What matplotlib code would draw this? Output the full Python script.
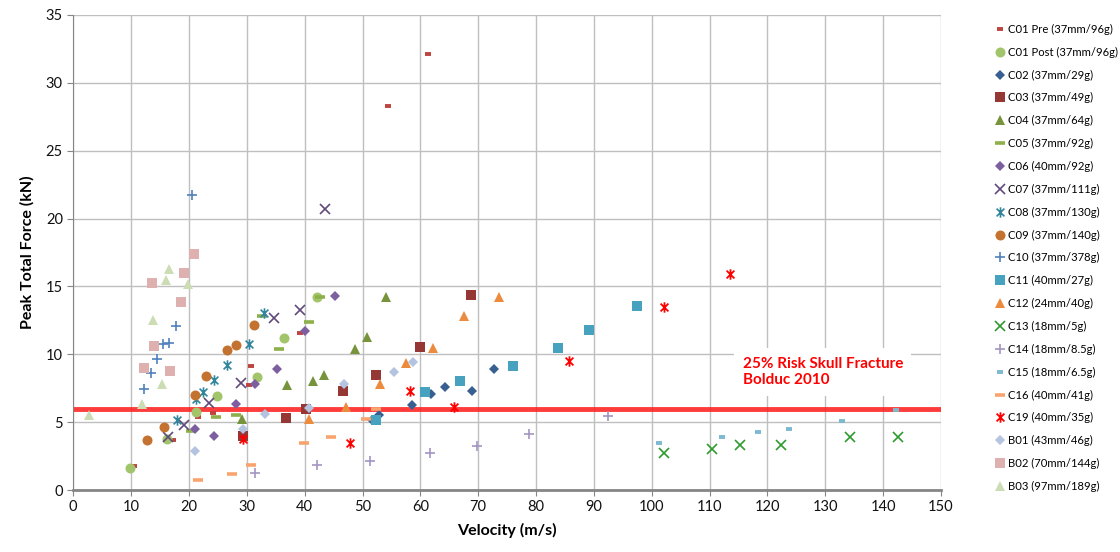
import matplotlib
matplotlib.use('Agg')
import matplotlib.pyplot as plt
from matplotlib.path import Path

plt.rcParams['font.family'] = ['Lato', 'DejaVu Sans']

# Velocity (m/s) and peak total force (kN) per test series
c01pre_v = [10.5, 17.2, 21.6, 24.2, 30.4, 30.8, 39.2, 54.4, 61.3]
c01pre_f = [1.8, 3.7, 5.4, 5.65, 7.7, 9.1, 11.55, 28.3, 32.1]
c01post_v = [9.8, 16.2, 21.3, 24.8, 31.7, 36.4, 42.1]
c01post_f = [1.6, 3.76, 5.77, 6.9, 8.3, 11.2, 14.2]
c02_v = [51.6, 52.9, 58.5, 61.8, 64.2, 68.9, 72.7]
c02_f = [5.15, 5.5, 6.26, 7.1, 7.6, 7.3, 8.9]
c03_v = [29.4, 36.7, 40.2, 46.6, 52.3, 59.9, 68.8]
c03_f = [4.0, 5.33, 6.0, 7.3, 8.5, 10.56, 14.37]
c04_v = [29.1, 37.0, 41.5, 43.3, 48.7, 50.7, 54.1]
c04_f = [5.2, 7.7, 8.05, 8.5, 10.4, 11.3, 14.2]
c05_v = [20.3, 24.6, 28.2, 32.6, 35.5, 40.8, 42.6]
c05_f = [4.37, 5.35, 5.5, 12.8, 10.4, 12.4, 14.25]
c06_v = [21.0, 24.4, 28.2, 31.5, 35.3, 40.0, 45.2]
c06_f = [4.47, 4.0, 6.3, 7.8, 8.9, 11.7, 14.3]
c07_v = [16.3, 19.2, 23.5, 29.0, 34.7, 39.2, 43.6]
c07_f = [3.93, 4.77, 6.4, 7.86, 12.65, 13.26, 20.7]
c08_v = [17.9, 21.3, 22.5, 24.3, 26.6, 30.4, 33.0]
c08_f = [5.16, 6.68, 7.25, 8.1, 9.19, 10.76, 13.07]
c09_v = [12.8, 15.7, 21.0, 23.0, 26.5, 28.2, 31.3]
c09_f = [3.68, 4.67, 7.0, 8.4, 10.3, 10.66, 12.16]
c10_v = [12.3, 13.4, 14.4, 15.6, 16.5, 17.7, 20.5]
c10_f = [7.42, 8.6, 9.65, 10.76, 10.8, 12.1, 21.7]
c11_v = [52.4, 60.8, 66.8, 76.1, 83.8, 89.2, 97.4]
c11_f = [5.13, 7.2, 8.0, 9.1, 10.49, 11.8, 13.58]
c12_v = [40.7, 47.2, 53.0, 57.5, 62.2, 67.6, 73.6]
c12_f = [5.23, 6.09, 7.83, 9.38, 10.46, 12.82, 14.2]
c13_v = [102.1, 110.4, 115.3, 122.4, 134.2, 142.6]
c13_f = [2.75, 3.02, 3.34, 3.32, 3.88, 3.93]
c14_v = [31.5, 42.1, 51.3, 61.7, 69.8, 78.7, 92.4]
c14_f = [1.23, 1.84, 2.16, 2.75, 3.27, 4.15, 5.45]
c15_v = [101.2, 112.2, 118.3, 123.7, 132.8, 142.3]
c15_f = [3.44, 3.93, 4.27, 4.52, 5.11, 5.87]
c16_v = [21.6, 27.5, 30.7, 39.9, 44.5, 50.6, 52.3]
c16_f = [0.74, 1.2, 1.82, 3.46, 3.88, 5.21, 5.94]
c19_v = [29.4, 47.8, 58.2, 65.8, 85.7, 102.1, 113.6]
c19_f = [3.73, 3.49, 7.32, 6.14, 9.53, 13.5, 15.9]
b01_v = [21.0, 29.3, 33.2, 40.8, 46.8, 55.5, 58.8]
b01_f = [2.87, 4.5, 5.6, 6.04, 7.79, 8.67, 9.43]
b02_v = [12.2, 13.65, 14.0, 16.8, 18.6, 19.2, 20.9]
b02_f = [8.97, 15.28, 10.6, 8.8, 13.83, 16.0, 17.4]
b03_v = [2.8, 11.8, 13.8, 15.4, 16.1, 16.5, 19.9]
b03_f = [5.5, 6.3, 12.5, 7.8, 15.5, 16.3, 15.2]

threshold = 6.0  # 25% risk of skull fracture

# Excel style "star": an x with a vertical bar through it
star = Path([(0, -1), (0, 1), (-0.75, -0.75), (0.75, 0.75), (-0.75, 0.75), (0.75, -0.75)],
            [Path.MOVETO, Path.LINETO] * 3)

fig = plt.figure(figsize=(11.2, 5.52), dpi=100)
ax = fig.add_axes([0.0654, 0.1123, 0.7748, 0.8607])

ax.axhline(threshold, color='#FF1A1A', lw=3.5, alpha=0.85, zorder=2)


def dots(v, f, label, marker, color, ms, **kw):
    ax.plot(v, f, linestyle='none', marker=marker, color=color, ms=ms,
            label=label, zorder=3, **kw)


dots(c01pre_v, c01pre_f, 'C01 Pre (37mm/96g)', '_', '#BE4440', 4.5, mew=2.8)
dots(c01post_v, c01post_f, 'C01 Post (37mm/96g)', 'o', '#A2C46A', 7.2, mew=0)
dots(c02_v, c02_f, 'C02 (37mm/29g)', 'D', '#385F92', 5.3, mew=0)
dots(c03_v, c03_f, 'C03 (37mm/49g)', 's', '#953735', 6.8, mew=0)
dots(c04_v, c04_f, 'C04 (37mm/64g)', '^', '#77933C', 7.5, mew=0)
dots(c05_v, c05_f, 'C05 (37mm/92g)', '_', '#8DB04A', 7.0, mew=2.6)
dots(c06_v, c06_f, 'C06 (40mm/92g)', 'D', '#7D5FA0', 5.3, mew=0)
dots(c07_v, c07_f, 'C07 (37mm/111g)', 'x', '#604A7B', 6.5, mew=1.2)
dots(c08_v, c08_f, 'C08 (37mm/130g)', star, '#31859C', 7.5, mew=1.2, mfc='none')
dots(c09_v, c09_f, 'C09 (37mm/140g)', 'o', '#C4722F', 7.2, mew=0)
dots(c10_v, c10_f, 'C10 (37mm/378g)', '+', '#4F81BD', 7.5, mew=1.2)
dots(c11_v, c11_f, 'C11 (40mm/27g)', 's', '#46A2BE', 6.8, mew=0)
dots(c12_v, c12_f, 'C12 (24mm/40g)', '^', '#EC8B3E', 7.5, mew=0)
dots(c13_v, c13_f, 'C13 (18mm/5g)', 'x', '#2E9B2E', 6.5, mew=1.2)
dots(c14_v, c14_f, 'C14 (18mm/8.5g)', '+', '#A495C4', 7.5, mew=1.2)
dots(c15_v, c15_f, 'C15 (18mm/6.5g)', '_', '#7DB9D0', 4.5, mew=2.8)
dots(c16_v, c16_f, 'C16 (40mm/41g)', '_', '#F9A46E', 7.0, mew=2.6)
dots(c19_v, c19_f, 'C19 (40mm/35g)', star, '#FF0000', 7.5, mew=1.3, mfc='none')
dots(b01_v, b01_f, 'B01 (43mm/46g)', 'D', '#B3C3E0', 5.3, mew=0)
dots(b02_v, b02_f, 'B02 (70mm/144g)', 's', '#DFB0B0', 6.8, mew=0)
dots(b03_v, b03_f, 'B03 (97mm/189g)', '^', '#CCDCB4', 7.5, mew=0)

ax.text(115.7, 8.7, '25% Risk Skull Fracture\nBolduc 2010', color='#FF0000',
        fontsize=11, fontweight='bold', va='center', ha='left', linespacing=1.25,
        bbox=dict(facecolor='white', edgecolor='none', pad=6), zorder=4)

ax.set_xlim(0, 150)
ax.set_ylim(0, 35)
ax.set_xticks(range(0, 151, 10))
ax.set_yticks(range(0, 36, 5))
ax.grid(True, color='#BFBFBF', lw=1.0, zorder=0)
ax.set_axisbelow(True)
for s in ['top', 'right']:
    ax.spines[s].set_visible(False)
ax.spines['left'].set_color('#868686')
ax.spines['bottom'].set_color('#868686')
ax.spines['bottom'].set_linewidth(2.0)
ax.tick_params(colors='#868686', labelcolor='#111111', labelsize=10.5, length=4)

ax.set_xlabel('Velocity (m/s)', fontsize=11.5, fontweight='bold', labelpad=6)
ax.set_ylabel('Peak Total Force (kN)', fontsize=11.5, fontweight='bold', labelpad=8)

fig.legend(loc='upper left', bbox_to_anchor=(0.889, 0.957), frameon=False,
           fontsize=8.1, handlelength=0.8, handletextpad=0.3, labelspacing=1.05,
           borderpad=0, borderaxespad=0, numpoints=1)

fig.savefig('out.png', dpi=100)
